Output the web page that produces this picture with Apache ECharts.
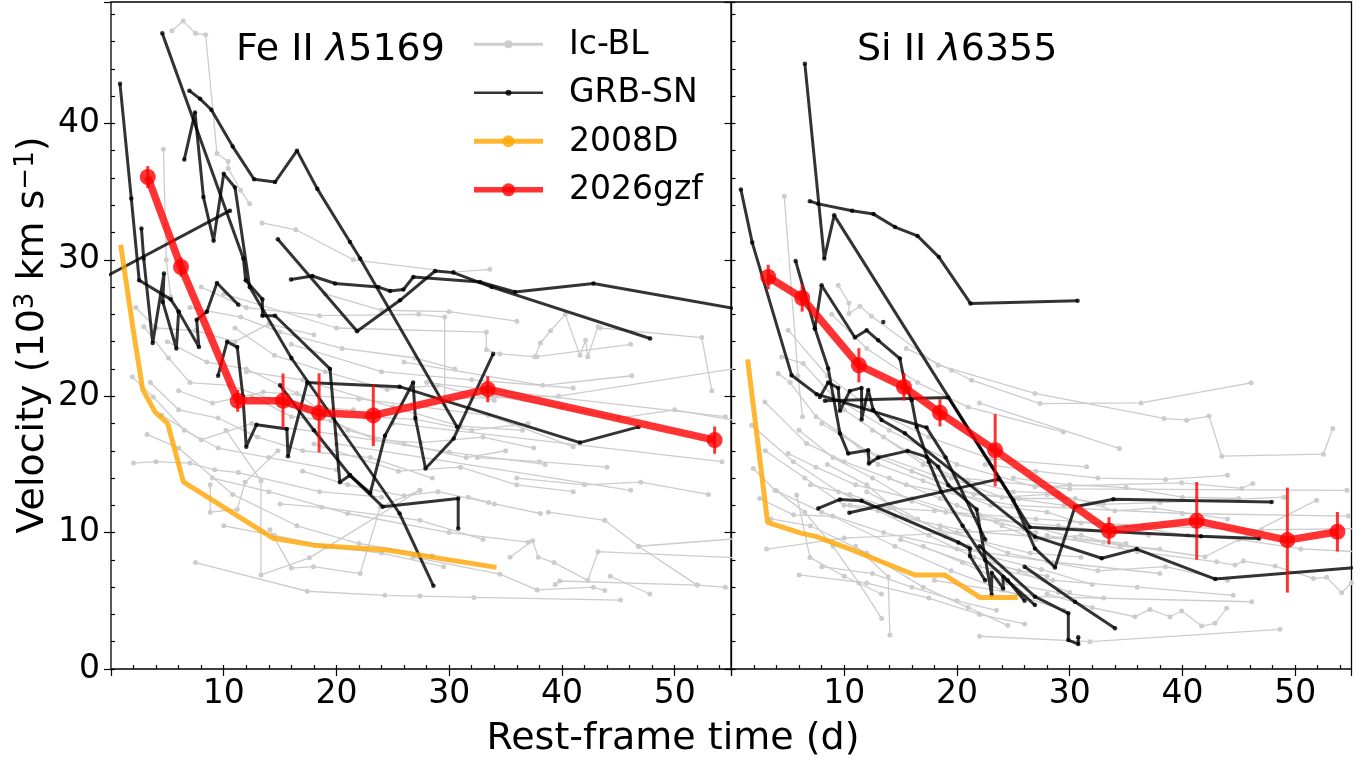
<!DOCTYPE html>
<html>
<head>
<meta charset="utf-8">
<script src="https://cdn.jsdelivr.net/npm/echarts/dist/echarts.min.js"></script>
<style>
html,body{margin:0;padding:0;background:#fff;}
#chart{width:1369px;height:760px;}
</style>
</head>
<body>
<div id="chart"></div>
<script>
// ---- Fe II 5169 panel: velocities (10^3 km/s) vs rest-frame time (d) ----
const feIcBL = [
  [[5.4,46.8],[6.4,47.5],[7.5,46.6],[8.4,46.5],[9.4,37.8],[10.4,37.2],[10.4,36.7],[11.5,35.1],[12.3,34.1]],
  [[4.65,38.1],[4.9,30.0],[5.3,27.3]],
  [[13.4,32.7],[16.4,32.2],[21.5,30.0],[30.4,29.1],[33.6,29.3]],
  [[2.9,25.1],[5.1,22.8],[7.0,21.0],[10.5,20.8],[16.0,19.3],[21.5,19.0]],
  [[1.9,21.4],[3.75,19.95],[6.5,17.5],[9.5,16.2],[14.0,15.5],[20.0,14.6]],
  [[2.0,15.1],[4.0,15.2],[7.0,15.1],[9.2,14.6],[11.3,14.4],[18.5,13.0],[24.0,12.6]],
  [[7.5,7.8],[17.4,5.7],[24.3,5.4],[27.4,5.35],[32.2,5.25],[45.2,5.05]],
  [[8.8,13.5],[8.8,11.5],[11.2,11.7],[11.9,13.7],[14.8,16.0]],
  [[10.2,17.5],[13.3,13.8],[13.3,6.9],[17.6,8.15],[27.4,13.1]],
  [[15.0,12.1],[18.7,11.85],[27.4,10.9],[33.0,9.5]],
  [[14.1,10.2],[16.0,7.4],[17.95,7.5],[22.1,7.0],[23.9,11.9],[27.4,13.1]],
  [[26.8,8.2],[34.5,6.95],[37.8,5.8],[42.8,6.0],[43.8,5.75]],
  [[35.4,8.2],[37.4,9.4],[37.9,8.2],[39.3,7.8],[42.3,6.5],[43.2,8.6],[55.5,8.15]],
  [[39.4,6.2],[39.8,6.45],[52.0,6.15],[54.5,6.0]],
  [[44.3,6.8],[47.8,5.5]],
  [[38.8,11.5],[43.8,10.9],[46.8,9.0],[52.0,6.15]],
  [[46.8,9.0],[55.5,9.55]],
  [[31.7,12.6],[34.0,12.1],[38.1,11.4]],
  [[20.0,16.5],[46.1,13.1]],
  [[25.0,18.0],[54.2,15.2]],
  [[28.0,21.0],[54.5,18.5]],
  [[30.0,19.8],[39.7,20.0],[55.5,22.05]],
  [[26.0,22.5],[38.3,20.8],[46.2,21.5]],
  [[37.8,22.9],[46.1,23.8]],
  [[43.4,25.0],[52.4,24.3],[53.3,20.4]],
  [[8.0,28.0],[12.0,26.5],[18.5,25.9],[27.3,26.0],[29.6,25.8],[29.6,19.4]],
  [[10.0,27.5],[20.0,25.0],[33.3,24.7],[33.3,23.4],[34.5,23.1],[37.6,22.9],[38.1,23.9],[39.0,24.8],[40.3,26.0],[41.6,23.0],[42.1,24.1],[42.3,22.9],[43.2,25.1]],
  [[16.0,23.8],[24.0,21.8],[32.0,21.2],[41.0,20.6]],
  [[4.5,18.6],[8.0,16.8],[12.5,18.0],[20.0,17.2],[30.0,15.9],[38.5,15.0]],
  [[3.2,17.2],[6.0,16.2],[10.8,12.8],[16.5,10.5],[22.0,9.2],[28.5,8.3]],
  [[6.0,20.4],[9.0,19.5],[13.5,20.3],[22.0,19.8],[33.5,18.6],[41.0,16.3]],
  [[2.2,26.5],[4.0,25.0],[7.5,24.8],[11.0,24.0],[14.0,25.3],[18.0,24.5]],
  [[12.0,21.8],[17.0,21.2],[25.0,19.2],[31.0,17.8],[36.5,17.5]],
  [[9.0,14.0],[14.0,13.0],[21.0,11.4],[30.0,10.0],[37.0,9.3]],
  [[18.0,16.5],[25.5,14.5],[31.0,14.8],[36.0,13.5],[41.0,13.0]],
  [[3.5,21.0],[6.0,19.0],[9.5,18.4],[13.0,17.0],[17.0,16.0],[23.0,15.5],[28.5,14.0]],
  [[5.0,24.0],[8.5,22.5],[12.0,22.0],[16.5,20.2],[21.0,17.5],[26.0,16.5],[31.5,15.5],[35.0,16.0]],
  [[11.0,25.0],[14.5,23.0],[19.0,21.8],[24.5,20.5],[29.0,20.8],[34.0,19.7]],
  [[7.0,26.5],[11.5,25.8],[15.0,24.7],[20.5,23.5],[27.0,22.8],[30.5,22.0]],
  [[12.5,20.0],[16.0,18.5],[19.5,18.2],[23.5,16.8],[27.5,16.6],[33.0,17.0],[37.5,16.2]],
  [[17.0,14.5],[21.0,13.5],[26.0,12.7],[29.0,13.0],[33.5,12.2]],
  [[10.0,10.5],[14.5,9.8],[19.0,9.0],[24.0,8.5],[29.5,7.5]],
  [[22.5,18.5],[27.0,18.3],[32.0,17.5],[37.0,18.0]],
  [[19.0,27.5],[24.0,26.3],[30.0,26.2],[36.0,25.5]],
  [[34.0,20.0],[40.0,19.2],[45.0,18.4],[50.0,19.0],[55.5,18.2]],
  [[36.0,14.0],[42.0,13.5],[47.0,13.7],[53.0,12.8]],
  [[32.5,15.5],[38.0,15.2],[44.0,14.8]]
];
const feGrbSN = [
  [[0.8,42.9],[1.8,34.5],[2.5,28.5],[5.3,27.1],[6.0,26.2]],
  [[-0.5,28.75],[10.55,33.6]],
  [[4.55,46.6],[11.74,30.1],[11.95,28.5],[13.43,27.1],[13.43,25.9],[14.55,25.9],[19.43,22.0],[20.3,13.7],[21.2,14.2],[23.0,12.9],[24.3,17.1],[26.8,21.0],[27.0,18.4],[27.9,14.7],[30.4,16.9],[33.9,23.1]],
  [[6.95,42.4],[7.9,41.8],[8.9,41.0],[10.8,38.3],[12.7,35.9],[14.55,35.7],[16.5,38.0],[18.3,35.2],[21.2,31.3],[22.1,30.1],[30.7,17.75]],
  [[6.5,37.35],[7.45,40.8],[8.2,34.6],[9.1,31.4],[10.0,36.3],[11.0,35.3],[12.3,28.0],[16.0,22.8],[25.6,11.4],[28.6,6.1]],
  [[2.7,32.3],[2.9,30.1],[3.7,23.9],[4.7,29.0],[4.6,26.9],[5.8,23.5],[6.0,26.2],[7.8,23.6],[7.6,25.6],[8.5,26.2],[9.4,28.3],[11.3,26.7]],
  [[9.5,21.5],[10.3,24.0],[11.2,23.6],[11.7,20.0],[12.0,16.3],[12.9,17.9],[15.6,17.6],[15.7,15.6],[17.4,21.0],[25.6,20.7],[41.6,16.6],[46.8,17.75]],
  [[15.97,28.55],[17.86,28.81],[19.88,28.26],[23.72,28.0],[24.76,27.71],[25.94,27.82],[26.82,28.74],[32.74,28.37],[35.85,27.64],[42.8,28.26],[55.5,26.4]],
  [[14.8,31.5],[21.83,24.76],[25.64,27.03],[28.75,29.18],[30.37,29.06],[33.78,28.0],[47.83,24.23]],
  [[15.0,20.8],[18.0,17.5],[21.2,14.2],[24.1,11.9],[30.8,12.5],[30.8,10.3]]
];
const fe2008DTime = [0.86, 1.98, 2.81, 3.9, 5.03, 6.42, 14.4, 17.95, 24.46, 34.2];
const fe2008DVel  = [31.1, 24.8, 20.5, 18.85, 18.0, 13.72, 9.58, 9.08, 8.72, 7.45];
const feGzfTime = [3.26, 6.21, 11.24, 15.26, 18.46, 23.27, 33.42, 53.55];
const feGzfVel  = [36.07, 29.47, 19.66, 19.66, 18.78, 18.59, 20.51, 16.78];
const feGzfErr  = [0.8, 0.7, 0.8, 2.0, 2.9, 2.25, 0.95, 1.0];

// ---- Si II 6355 panel ----
const siIcBL = [
  [[4.68,34.66],[5.9,21.5],[6.3,18.5]],
  [[9.47,28.13],[10.42,26.84],[10.42,26.06],[11.39,26.59],[12.43,25.86],[18.34,22.27],[26.92,20.2],[38.37,18.37],[40.38,18.24],[42.36,18.54],[43.49,15.6],[52.5,15.75],[53.34,17.63]],
  [[15.5,23.5],[19.53,21.9],[21.3,21.17],[27.37,19.46],[36.33,19.51],[46.09,20.98]],
  [[8.88,26.0],[12.0,23.5],[16.5,21.0],[21.0,19.2],[29.43,17.38]],
  [[22.0,19.5],[34.4,16.17]],
  [[5.03,24.84],[8.5,21.5],[12.5,19.0],[17.5,17.0],[23.0,15.4],[31.5,14.82]],
  [[4.45,22.88],[6.36,22.4],[9.0,20.0],[14.0,17.5],[20.0,15.0],[26.92,13.36],[39.94,13.65],[45.27,13.24],[46.24,13.6]],
  [[4.14,21.66],[5.2,21.0],[7.5,18.5],[12.0,16.0],[18.0,14.2],[30.0,13.2],[54.6,13.1]],
  [[2.96,19.58],[6.66,16.54],[10.0,15.2],[15.5,13.5],[25.0,12.0],[40.0,11.4],[54.72,11.21]],
  [[1.78,17.87],[5.5,15.2],[9.5,13.0],[14.5,11.2],[21.0,10.1],[33.0,9.3],[42.0,8.23],[51.9,12.38]],
  [[1.93,14.7],[3.85,13.11],[8.0,11.5],[13.5,10.0],[20.0,8.8],[28.0,7.9],[38.0,7.0]],
  [[5.03,15.8],[7.5,14.8],[11.0,13.5],[16.0,12.5],[22.0,11.0],[29.0,10.5],[37.0,9.8]],
  [[3.11,8.79],[10.0,9.6],[20.0,10.0],[26.0,10.2]],
  [[4.0,13.06],[6.5,11.5],[9.0,9.0],[11.3,6.3],[13.32,3.71]],
  [[5.78,12.75],[6.96,8.18],[10.0,6.8],[13.3,5.5]],
  [[11.0,9.0],[13.9,6.76],[14.05,2.49]],
  [[28.0,9.8],[36.0,8.6],[43.04,7.86],[44.67,7.62],[45.41,7.91],[48.22,7.55],[51.62,6.64],[52.8,6.72],[54.13,5.59],[55.0,6.33]],
  [[28.0,5.5],[32.0,4.5],[35.79,3.83],[37.12,4.37],[38.9,3.83],[39.94,4.25],[41.71,3.15],[42.89,3.35],[43.93,4.45]],
  [[18.0,6.5],[26.92,5.3],[46.15,4.93]],
  [[22.0,2.4],[31.8,2.0],[48.66,2.91]],
  [[15.0,9.5],[22.0,7.5],[28.5,6.5],[36.0,6.0],[44.5,5.4]],
  [[10.5,12.0],[18.0,11.6],[27.0,11.0],[36.5,10.5],[47.0,10.2],[55.5,10.3]],
  [[8.0,18.0],[13.0,15.5],[20.5,13.0],[29.5,12.0],[38.0,12.2],[49.0,12.6]],
  [[3.5,11.0],[7.0,10.5],[12.0,8.5],[17.0,6.0],[21.0,4.5],[24.5,3.2]],
  [[6.0,6.9],[12.0,6.3],[17.5,5.2],[22.0,4.0],[26.0,3.3]],
  [[2.5,12.5],[5.5,11.3],[9.0,11.2],[14.5,9.0],[19.5,7.2],[24.0,5.8],[29.5,4.3]],
  [[16.0,14.5],[21.5,12.8],[25.5,12.5],[30.5,12.5],[34.0,11.6],[37.5,11.8],[44.0,11.0]],
  [[9.5,17.5],[13.0,15.0],[17.0,13.8],[23.0,12.0],[28.0,11.5],[31.0,10.7]],
  [[12.0,13.0],[16.5,11.0],[21.0,9.0],[24.0,7.5],[28.0,6.8]],
  [[18.5,10.5],[24.5,8.5],[28.5,7.8],[32.5,7.2],[38.5,7.5],[44.0,6.5]],
  [[6.0,17.5],[9.0,15.5],[12.5,14.0],[16.0,12.3],[19.0,11.5],[23.5,10.8],[27.0,10.0]],
  [[7.0,13.5],[10.5,12.8],[14.0,11.8],[18.5,10.2],[22.5,9.3],[26.5,8.5],[31.0,8.2]],
  [[8.5,15.0],[12.0,13.5],[15.5,11.0],[19.0,9.7],[23.0,8.2],[27.5,7.3],[32.0,6.2]],
  [[10.0,19.0],[13.5,17.0],[17.0,15.0],[21.0,13.8],[25.0,13.0],[29.0,12.9]],
  [[3.0,16.0],[6.5,14.0],[10.0,12.0],[13.0,11.6],[17.5,9.8],[21.5,8.2],[25.5,7.2],[30.0,5.6]],
  [[12.5,17.5],[15.5,16.0],[19.5,14.0],[24.0,12.6],[28.0,12.8],[33.0,12.1]],
  [[14.0,14.0],[18.5,12.5],[22.0,11.3],[26.0,10.6],[30.5,9.6],[35.0,9.2]],
  [[17.0,9.0],[20.5,7.8],[24.5,6.3],[29.0,5.6],[33.0,5.2]],
  [[20.0,12.0],[24.0,10.5],[27.0,9.5],[31.0,9.8],[34.5,9.0],[38.0,8.8]],
  [[25.0,14.0],[30.0,13.5],[35.0,13.3],[40.0,12.6],[45.0,12.5]],
  [[30.0,10.8],[35.0,10.5],[40.5,9.8],[45.0,9.5],[50.5,8.8],[55.5,8.6]],
  [[8.0,7.5],[12.5,7.0],[16.0,6.0],[20.0,5.0],[23.5,4.3]],
  [[22.5,15.0],[27.0,14.5],[32.5,14.0],[38.5,13.9],[44.0,14.2]]
];
const siGrbSN = [
  [[6.51,44.37],[8.23,30.09],[9.11,33.26],[25.0,12.38],[26.92,8.84],[28.7,7.45],[30.47,11.9],[33.87,12.45],[47.92,12.25]],
  [[6.95,34.3],[7.69,34.1],[10.7,33.6],[12.6,33.35],[14.5,32.4],[16.5,31.75],[18.4,30.2],[21.2,26.8],[30.7,27.0]],
  [[0.83,35.16],[1.84,31.26],[5.33,21.54],[7.55,20.15],[17.3,17.7],[19.0,15.5],[22.5,9.5]],
  [[5.69,29.91],[7.4,24.96],[8.58,22.03],[9.62,17.27],[10.35,15.8],[12.13,16.04],[12.19,15.07],[13.02,15.51],[15.63,15.99],[17.31,15.55],[18.34,14.82],[19.23,13.48],[21.75,11.7],[23.08,5.42],[23.08,7.05],[24.1,5.91],[24.1,6.76],[26.92,4.69]],
  [[7.4,24.96],[7.99,28.13],[10.95,24.3],[11.99,24.83],[13.02,24.1],[14.94,22.76],[15.38,20.93],[15.98,19.71],[16.42,17.75],[17.5,15.2],[18.6,13.0],[20.5,10.5],[22.5,8.0],[24.5,6.5],[26.0,5.0]],
  [[7.84,19.95],[8.58,21.0],[9.47,20.6],[9.62,18.93],[10.5,20.39],[11.54,20.61],[11.54,18.29],[12.13,20.46],[12.57,18.99],[13.31,18.26],[15.38,17.28],[26.92,9.7],[32.84,8.12],[35.95,8.79],[42.91,6.59],[55.5,7.45]],
  [[7.69,11.77],[9.62,12.43],[11.54,12.33],[20.12,9.28],[21.15,8.84],[21.15,8.28],[22.5,6.5]],
  [[10.45,11.45],[23.67,13.92]],
  [[8.29,19.66],[19.23,19.9],[26.45,10.4],[41.65,9.74],[46.8,9.57]],
  [[22.0,9.0],[26.92,5.3],[29.88,4.08],[29.88,2.12],[30.76,1.83],[30.76,2.32]],
  [[26.0,7.5],[30.47,4.93],[34.02,2.98]],
  [[13.46,25.44]]
];
const si2008DTime = [1.43, 3.2, 6.22, 7.4, 10.36, 13.32, 16.27, 18.93, 22.04, 25.39];
const si2008DVel  = [22.7, 10.75, 9.94, 9.74, 8.84, 7.86, 6.89, 6.89, 5.25, 5.25];
const siGzfTime = [3.26, 6.27, 11.3, 15.3, 18.49, 23.39, 33.49, 41.27, 49.31, 53.75];
const siGzfVel  = [28.74, 27.2, 22.27, 20.68, 18.78, 16.04, 10.13, 10.86, 9.45, 10.06];
const siGzfErr  = [0.9, 1.0, 1.25, 1.0, 1.0, 2.65, 1.0, 2.85, 3.85, 1.45];

const xTickLabels = [10, 20, 30, 40, 50];
const yTickLabels = [0, 10, 20, 30, 40];

// ---- styling ----
const FONT = 'DejaVu Sans';
const GRAY = '#cccccc';
const BLACK = 'rgba(0,0,0,0.8)';
const ORANGE = 'rgba(255,165,0,0.8)';
const RED = 'rgba(255,0,0,0.8)';
const X_MAX = 55, Y_MAX = 48.9;

const grids = [
  {left: 111, top: 2, width: 620, height: 667, show: true, borderColor: '#000', borderWidth: 1.3, backgroundColor: 'transparent'},
  {left: 731.5, top: 2, width: 620, height: 667, show: true, borderColor: '#000', borderWidth: 1.3, backgroundColor: 'transparent'}
];

function near(v, list) { return list.some(t => Math.abs(v - t) < 1e-6); }

const xAxes = [], yAxes = [];
[0, 1].forEach(p => {
  // fine ticks every 2 d with labels on the decades
  xAxes.push({
    type: 'value', gridIndex: p, min: 0, max: X_MAX, interval: 2,
    axisLine: {show: false}, splitLine: {show: false},
    axisTick: {show: true, inside: true, length: 4, lineStyle: {color: '#000', width: 1.2}},
    axisLabel: {show: true, margin: 9, fontSize: 33, color: '#000', fontFamily: FONT,
      showMinLabel: false, showMaxLabel: false,
      formatter: v => near(v, xTickLabels) ? String(Math.round(v)) : ''}
  });
  xAxes.push({
    type: 'value', gridIndex: p, min: 0, max: X_MAX, interval: 10,
    axisLine: {show: false}, splitLine: {show: false},
    axisTick: {show: true, inside: true, length: 7, lineStyle: {color: '#000', width: 1.2}},
    axisLabel: {show: false}
  });
  yAxes.push({
    type: 'value', gridIndex: p, min: 0, max: Y_MAX, interval: 2,
    axisLine: {show: false}, splitLine: {show: false},
    axisTick: {show: true, inside: true, length: 4, lineStyle: {color: '#000', width: 1.2}},
    axisLabel: {show: p === 0, margin: 11, fontSize: 33, color: '#000', fontFamily: FONT,
      showMaxLabel: false,
      formatter: v => near(v, yTickLabels) ? String(Math.round(v)) : ''}
  });
  yAxes.push({
    type: 'value', gridIndex: p, min: 0, max: Y_MAX, interval: 10,
    axisLine: {show: false}, splitLine: {show: false},
    axisTick: {show: true, inside: true, length: 7, lineStyle: {color: '#000', width: 1.2}},
    axisLabel: {show: false}
  });
});

const series = [];
function addLines(lines, p, color, width, size, z) {
  lines.forEach(pts => {
    series.push({
      type: 'line', xAxisIndex: 2 * p, yAxisIndex: 2 * p, data: pts,
      symbol: 'circle', symbolSize: size, showSymbol: true,
      lineStyle: {color: color, width: width}, itemStyle: {color: color},
      silent: true, animation: false, z: z, clip: true
    });
  });
}
function addCurve(t, v, p, color, width, size, z) {
  series.push({
    type: 'line', xAxisIndex: 2 * p, yAxisIndex: 2 * p,
    data: t.map((x, i) => [x, v[i]]),
    symbol: size > 0 ? 'circle' : 'none', symbolSize: size, showSymbol: size > 0,
    lineStyle: {color: color, width: width}, itemStyle: {color: color},
    silent: true, animation: false, z: z, clip: true
  });
}
function addErrors(t, v, e, p, z) {
  series.push({
    type: 'custom', xAxisIndex: 2 * p, yAxisIndex: 2 * p,
    data: t.map((x, i) => [x, v[i], e[i]]),
    encode: {x: 0, y: 1},
    renderItem: (params, api) => {
      const lo = api.coord([api.value(0), api.value(1) - api.value(2)]);
      const hi = api.coord([api.value(0), api.value(1) + api.value(2)]);
      return {type: 'line', shape: {x1: lo[0], y1: lo[1], x2: hi[0], y2: hi[1]},
        style: {stroke: RED, lineWidth: 3}};
    },
    silent: true, animation: false, z: z
  });
}

addLines(feIcBL, 0, GRAY, 1.3, 5, 1);
addLines(siIcBL, 1, GRAY, 1.3, 5, 1);
addLines(feGrbSN, 0, BLACK, 3, 4.5, 2);
addLines(siGrbSN, 1, BLACK, 3, 4.5, 2);
addCurve(fe2008DTime, fe2008DVel, 0, ORANGE, 5, 0, 3);
addCurve(si2008DTime, si2008DVel, 1, ORANGE, 5, 0, 3);
addErrors(feGzfTime, feGzfVel, feGzfErr, 0, 4);
addErrors(siGzfTime, siGzfVel, siGzfErr, 1, 4);
addCurve(feGzfTime, feGzfVel, 0, RED, 7.5, 16, 5);
addCurve(siGzfTime, siGzfVel, 1, RED, 7.5, 16, 5);

// legend entries drawn by hand
const legendItems = [
  {name: 'Ic-BL', color: GRAY, width: 3, r: 4},
  {name: 'GRB-SN', color: BLACK, width: 2.5, r: 3},
  {name: '2008D', color: ORANGE, width: 5, r: 6},
  {name: '2026gzf', color: RED, width: 5.5, r: 6.5}
];
const graphics = [];
legendItems.forEach((it, i) => {
  const y = 44.3 + i * 48.5;
  graphics.push({type: 'line', shape: {x1: 474, y1: y, x2: 543, y2: y}, style: {stroke: it.color, lineWidth: it.width}, z: 10});
  graphics.push({type: 'circle', shape: {cx: 508.5, cy: y, r: it.r}, style: {fill: it.color}, z: 10});
  graphics.push({type: 'text', x: 569, y: y + 1, style: {text: it.name, fontFamily: FONT, fontSize: 33, fill: '#000', textVerticalAlign: 'middle'}, z: 10});
});
// panel titles
[['Fe II {i|λ}5169', 236], ['Si II {i|λ}6355', 857]].forEach(([txt, x]) => {
  graphics.push({type: 'text', x: x, y: 50, z: 10,
    style: {text: txt, fontFamily: FONT, fontSize: 38, fill: '#000', textVerticalAlign: 'middle',
      rich: {i: {fontFamily: FONT, fontSize: 38, fontStyle: 'italic', fill: '#000'}}}});
});
// axis titles
graphics.push({type: 'text', x: 673, y: 739, z: 10,
  style: {text: 'Rest-frame time (d)', fontFamily: FONT, fontSize: 38, fill: '#000', textAlign: 'center', textVerticalAlign: 'middle'}});
graphics.push({type: 'text', x: 33, y: 335, rotation: Math.PI / 2, z: 10,
  style: {text: 'Velocity (10{s|3} km s{s|−1})', fontFamily: FONT, fontSize: 38, fill: '#000',
    textAlign: 'center', textVerticalAlign: 'middle',
    rich: {s: {fontFamily: FONT, fontSize: 26, fill: '#000', verticalAlign: 'top', padding: [0, 0, 14, 0]}}}});

const chart = echarts.init(document.getElementById('chart'));
chart.setOption({
  animation: false,
  backgroundColor: '#fff',
  grid: grids,
  xAxis: xAxes,
  yAxis: yAxes,
  series: series,
  graphic: graphics
});
</script>
</body>
</html>
